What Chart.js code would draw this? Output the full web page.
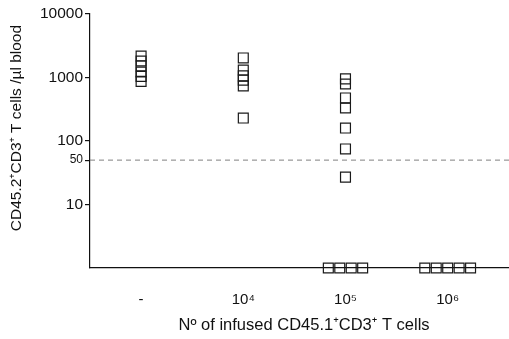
<!DOCTYPE html>
<html>
<head>
<meta charset="utf-8">
<script src="https://cdn.jsdelivr.net/npm/chart.js@4"></script>
<style>
  html, body { margin: 0; padding: 0; background: #fff; }
  #wrap { width: 509px; height: 339px; }
</style>
</head>
<body>
<div id="wrap"><canvas id="chart"></canvas></div>
<script>
// Groups of infused cell numbers
const groups = ['-', '10\u2074', '10\u2075', '10\u2076'];

// CD45.2+CD3+ T cells /µl blood, one value per mouse (0 = none detected)
const cellsNone = [2180, 1820, 1520, 1220, 1040, 870];
const cells1e4 = [2030, 1310, 1060, 910, 735, 230];
const cells1e5 = [950, 790, 476, 331, 160, 75, 27, 0, 0, 0, 0];
const cells1e6 = [0, 0, 0, 0, 0];

const yTicks = [10, 50, 100, 1000, 10000];
const threshold = 50;

const Y_MIN = 1;
const Y_MAX = 10000;
const ZERO_STEP = 0.112; // horizontal spread of undetected values along the axis

function toPoints(values, g) {
    const zeros = values.filter(v => v === 0).length;
    let k = 0;
    return values.map(v => {
        if (v > 0) return { x: g, y: v };
        const off = (k++ - (zeros - 1) / 2) * ZERO_STEP;
        return { x: g + off, y: Y_MIN };
    });
}

const series = [cellsNone, cells1e4, cells1e5, cells1e6];
const font = 'Liberation Sans, Arial, "Noto Sans", sans-serif';

const pointSets = series.map((vals, g) => ({
    type: 'scatter',
    data: toPoints(vals, g),
    pointStyle: 'rect',
    pointRadius: 7,
    pointHoverRadius: 7,
    borderColor: '#1a1a1a',
    backgroundColor: 'rgba(0,0,0,0)',
    borderWidth: 1.2,
    clip: false
}));

new Chart(document.getElementById('chart'), {
    type: 'scatter',
    data: {
        datasets: [
            {
                type: 'line',
                data: [{ x: -0.5, y: threshold }, { x: 3.6, y: threshold }],
                borderColor: '#808080',
                borderWidth: 1,
                borderDash: [5, 4],
                pointRadius: 0,
                fill: false
            },
            ...pointSets
        ]
    },
    options: {
        responsive: true, maintainAspectRatio: false,
        animation: false,
        layout: { autoPadding: false, padding: { top: 14, left: 0, right: 0, bottom: 0 } },
        plugins: { legend: { display: false }, tooltip: { enabled: false } },
        scales: {
            x: {
                type: 'linear',
                min: -0.5, max: 3.6,
                afterBuildTicks: s => { s.ticks = groups.map((_, i) => ({ value: i })); },
                afterFit: s => { s.height = 71; },
                grid: { display: false },
                border: { display: true, color: '#111', width: 1.2 },
                ticks: {
                    color: '#111',
                    padding: 15,
                    font: { family: font, size: 15 },
                    callback: v => groups[v]
                },
                title: {
                    display: true,
                    text: '  N\u00ba of infused CD45.1\u207aCD3\u207a T cells',
                    color: '#111',
                    font: { family: font, size: 16.5 },
                    padding: { top: 0, bottom: 4 }
                }
            },
            y: {
                type: 'logarithmic',
                min: Y_MIN, max: Y_MAX,
                afterBuildTicks: s => { s.ticks = yTicks.map(v => ({ value: v })); },
                afterFit: s => { s.width = 90; },
                grid: { drawOnChartArea: false, tickLength: 5, color: '#111', lineWidth: 1.2 },
                border: { display: true, color: '#111', width: 1.2 },
                ticks: {
                    color: '#111',
                    padding: 2,
                    font: c => ({ family: font, size: c.tick && c.tick.value === threshold ? 12 : 15.5 }),
                    callback: v => String(v)
                },
                title: {
                    display: true,
                    // leading spaces lift the label a little above the axis centre
                    text: '      CD45.2\u207aCD3\u207a T cells /\u00b5l blood',
                    color: '#111',
                    font: { family: font, size: 15.5 },
                    padding: { top: 7, bottom: 0 }
                }
            }
        }
    }
});
</script>
</body>
</html>
